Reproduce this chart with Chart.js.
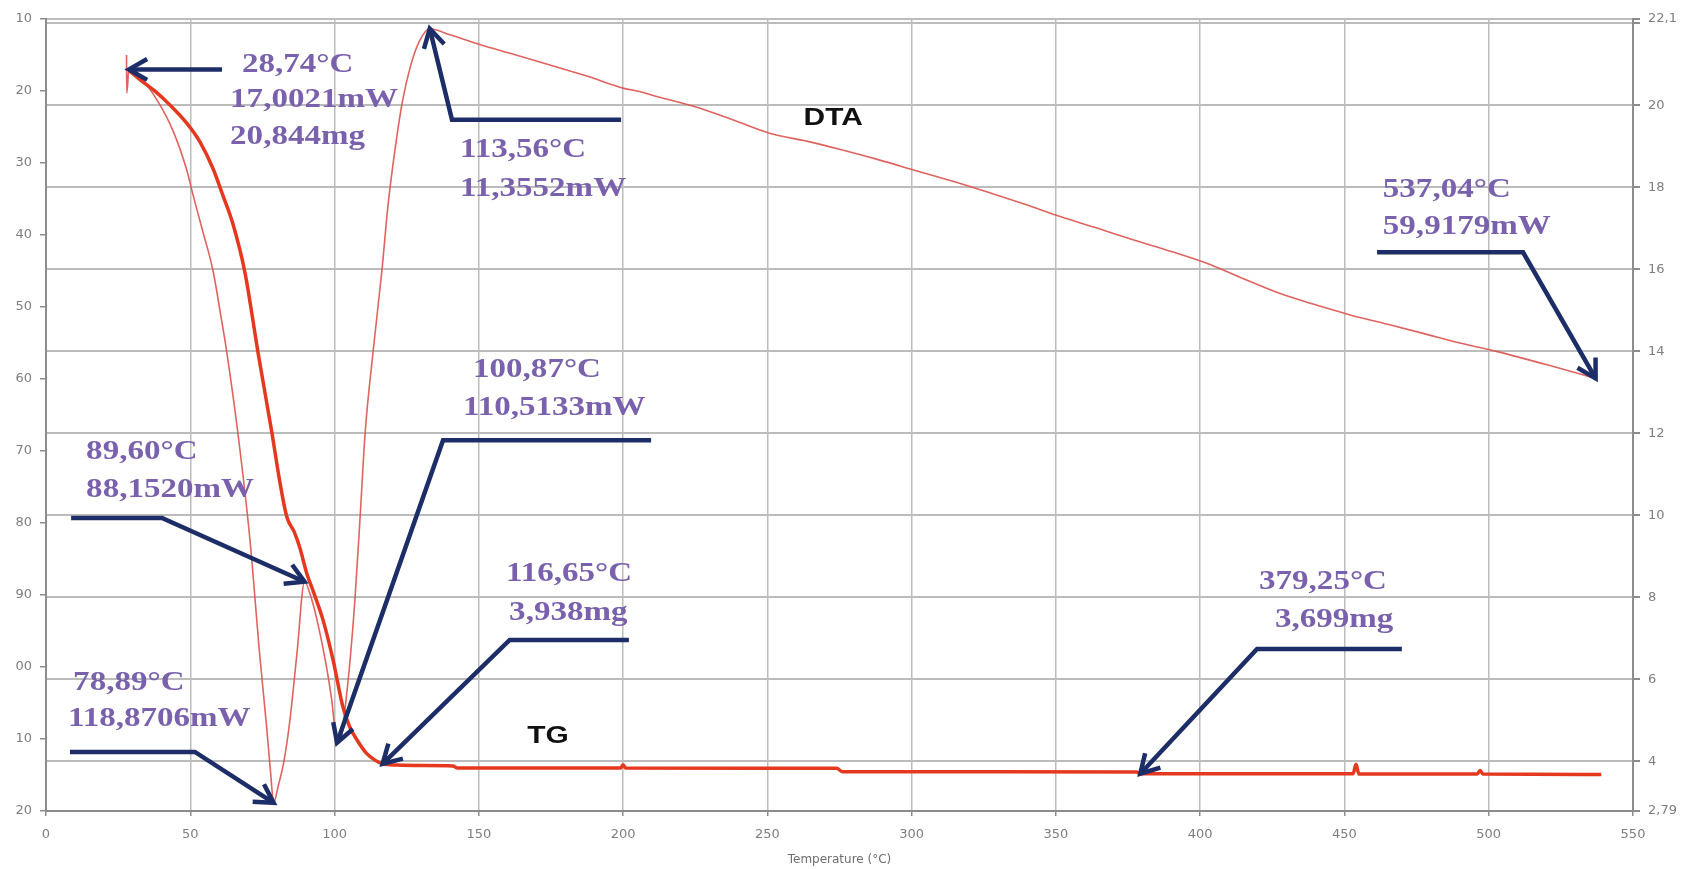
<!DOCTYPE html>
<html>
<head>
<meta charset="utf-8">
<script src="https://cdn.jsdelivr.net/npm/chart.js@4.4.1/dist/chart.umd.min.js"></script>
<style>
  html, body { margin: 0; padding: 0; background: #fff; width: 1687px; height: 869px; overflow: hidden; }
  #frame { position: absolute; left: 15px; top: 0; width: 1672px; height: 869px; overflow: hidden; background: #fff; }
  #chart { position: absolute; left: -20px; top: 0; }
</style>
</head>
<body>
<div id="frame"><canvas id="chart" width="1692" height="869"></canvas></div>
<script>
// DTA signal (mW) against furnace temperature (°C)
const dtaTemp = [27.9, 28.0, 28.74, 33, 38.4, 44, 48.8, 51, 54, 57.9, 60.5, 62.7, 66.5, 70.7, 74, 76.5, 77.8, 78.89,
  80.5, 82.5, 84.5, 87, 89.6, 92, 94.5, 97, 99, 100.87, 102.5, 104, 105.4, 107, 108.8, 110.6, 113.3, 116.4, 118.5,
  121, 123.5, 126.5, 129.5, 133, 140, 150, 162, 174.6, 188, 200, 206, 212, 225, 238, 251, 264, 276, 289, 301, 314,
  326, 339, 352, 364, 377, 390, 402, 414, 427.5, 440, 452, 465, 477.6, 490, 503, 520, 537.04];
const dtaPower = [15.0, 20.3, 17.0021, 18.3, 21.2, 25.5, 31, 34.5, 39, 45, 51, 56.4, 67.5, 82.4, 98, 108.5, 114.5, 118.8706,
  116.5, 113, 107.5, 98, 88.152, 90.5, 94.5, 99.5, 104.5, 110.5133, 109.5, 104.5, 99, 91, 79.6, 67.5, 56.4, 45, 36,
  28, 21.5, 16.3, 13, 11.3552, 12.2, 13.5, 14.9, 16.4, 18.0, 19.6, 20.1, 20.8, 22.2, 24.0, 25.9, 27.0, 28.2, 29.6, 31.0, 32.5,
  34.0, 35.7, 37.5, 39.0, 40.7, 42.3, 43.9, 45.9, 48.1, 49.7, 51.1, 52.4, 53.7, 55.0, 56.2, 58.0, 59.9179];

// TG sample mass (mg) against temperature (°C)
const tgTemp = [28.74, 33, 38.5, 43, 48.9, 53.4, 57.9, 61.3, 64.8, 69, 73.5, 78.3, 81.1, 83.5, 86, 88, 90.3, 92.6, 96, 99.5,
  102.9, 105.2, 107.8, 111, 114, 116.65, 121.6, 130, 141, 142.5, 199.2, 200, 200.8, 274, 276, 378, 379.25, 420, 453,
  454, 455, 496, 497, 498, 539];
const tgMass = [20.844, 20.6, 20.3, 20.0, 19.55, 19.1, 18.45, 17.8, 17.1, 15.9, 13.96, 12.01, 10.79, 9.95, 9.6, 9.2, 8.6, 8.15, 7.45, 6.47,
  5.33, 4.85, 4.52, 4.2, 4.03, 3.938, 3.91, 3.90, 3.89, 3.84, 3.84, 3.92, 3.84, 3.83, 3.75, 3.74, 3.699, 3.70, 3.70,
  3.93, 3.69, 3.69, 3.78, 3.69, 3.68];

// Axis ticks
const tempTicks = [0, 50, 100, 150, 200, 250, 300, 350, 400, 450, 500, 550];
const powerTicks = [10, 20, 30, 40, 50, 60, 70, 80, 90, 100, 110, 120];
const massTicks = [2.79, 4, 6, 8, 10, 12, 14, 16, 18, 20, 22, 22.1];
const massTickLabels = ['2,79', '4', '6', '8', '10', '12', '14', '16', '18', '20', '', '22,1'];

// Callout texts, each line anchored at [temperature, mW] (left edge, vertical centre)
const callouts = [
  { lines: ['28,74°C', '17,0021mW', '20,844mg'], at: [[67.9, 16.4], [63.8, 21.25], [63.8, 26.4]] },
  { lines: ['113,56°C', '11,3552mW'], at: [[143.5, 28.2], [143.5, 33.6]] },
  { lines: ['537,04°C', '59,9179mW'], at: [[463.3, 33.75], [463.3, 38.9]] },
  { lines: ['100,87°C', '110,5133mW'], at: [[148.0, 58.75], [144.5, 64.0]] },
  { lines: ['89,60°C', '88,1520mW'], at: [[13.9, 70.1], [13.9, 75.4]] },
  { lines: ['78,89°C', '118,8706mW'], at: [[9.4, 102.2], [7.6, 107.2]] },
  { lines: ['116,65°C', '3,938mg'], at: [[159.4, 87.1], [160.5, 92.4]] },
  { lines: ['379,25°C', '3,699mg'], at: [[420.4, 88.2], [425.9, 93.5]] }
];

// Leader arrows: bent path in [temperature, mW], ending on a point of a curve
const arrows = [
  { path: [[61.0, 17.0021]], tip: ['dta', 28.74] },
  { path: [[199.3, 24.0], [140.7, 24.0]], tip: ['dta', 133] },
  { path: [[461.3, 42.4], [511.9, 42.4]], tip: ['dta', 537.04] },
  { path: [[209.7, 68.5], [137.6, 68.5]], tip: ['dta', 100.87] },
  { path: [[8.7, 79.3], [40.2, 79.3]], tip: ['dta', 89.6] },
  { path: [[8.3, 111.8], [51.6, 111.8]], tip: ['dta', 78.89] },
  { path: [[202.0, 96.25], [160.7, 96.25]], tip: ['tg', 116.65] },
  { path: [[469.9, 97.5], [419.7, 97.5]], tip: ['tg', 379.25] }
];

// Curve names
const curveNames = [
  { text: 'DTA', at: [272.8, 23.9] },
  { text: 'TG', at: [174.0, 109.7] }
];

const AXIS_GREY = '#8c8c8c';
const GRID_GREY = '#bcbcbc';
const TICK_TEXT = '#7e7e7e';
const ARROW_BLUE = '#1d2d68';
const NOTE_PURPLE = '#7a61ad';

const calloutPlugin = {
  id: 'callouts',
  afterDatasetsDraw(chart) {
    const { ctx } = chart;
    const sx = chart.scales.x, sp = chart.scales.yPower, sm = chart.scales.yMass;
    const px = ([t, p]) => [sx.getPixelForValue(t), sp.getPixelForValue(p)];
    const tipOf = ([series, t]) => {
      if (series === 'dta') {
        const i = dtaTemp.indexOf(t);
        return [sx.getPixelForValue(dtaTemp[i]), sp.getPixelForValue(dtaPower[i])];
      }
      const i = tgTemp.indexOf(t);
      return [sx.getPixelForValue(tgTemp[i]), sm.getPixelForValue(tgMass[i])];
    };
    ctx.save();
    ctx.strokeStyle = ARROW_BLUE;
    ctx.lineWidth = 4.5;
    ctx.lineJoin = 'miter';
    ctx.lineCap = 'butt';
    for (const a of arrows) {
      const pts = a.path.map(px);
      const tip = tipOf(a.tip);
      pts.push(tip);
      ctx.beginPath();
      pts.forEach(([x, y], i) => (i ? ctx.lineTo(x, y) : ctx.moveTo(x, y)));
      ctx.stroke();
      const [x0, y0] = pts[pts.length - 2];
      const ang = Math.atan2(tip[1] - y0, tip[0] - x0);
      const L = 21, A = 0.52;
      ctx.beginPath();
      ctx.moveTo(tip[0] - L * Math.cos(ang - A), tip[1] - L * Math.sin(ang - A));
      ctx.lineTo(tip[0], tip[1]);
      ctx.lineTo(tip[0] - L * Math.cos(ang + A), tip[1] - L * Math.sin(ang + A));
      ctx.stroke();
    }
    // callout texts
    ctx.fillStyle = NOTE_PURPLE;
    ctx.font = 'bold 28px "Liberation Serif", "DejaVu Serif", serif';
    ctx.textAlign = 'left';
    ctx.textBaseline = 'middle';
    for (const c of callouts) {
      c.lines.forEach((line, i) => {
        const [x, y] = px(c.at[i]);
        ctx.save();
        ctx.translate(x, y);
        ctx.scale(1.18, 1);
        ctx.fillText(line, 0, 0);
        ctx.restore();
      });
    }
    // curve names
    ctx.fillStyle = '#111';
    ctx.font = 'bold 23px "Liberation Sans", Arial, sans-serif';
    ctx.textAlign = 'center';
    for (const n of curveNames) {
      const [x, y] = px(n.at);
      ctx.save();
      ctx.translate(x, y);
      ctx.scale(1.3, 1);
      ctx.fillText(n.text, 0, 0);
      ctx.restore();
    }
    ctx.restore();
  }
};

const tickFont = { family: 'DejaVu Sans', size: 13 };

new Chart(document.getElementById('chart'), {
  type: 'line',
  data: {
    datasets: [
      {
        label: 'TG',
        data: tgTemp.map((t, i) => ({ x: t, y: tgMass[i] })),
        yAxisID: 'yMass',
        borderColor: '#e4391f',
        borderWidth: 3.5,
        pointRadius: 0,
        cubicInterpolationMode: 'monotone'
      },
      {
        label: 'DTA',
        data: dtaTemp.map((t, i) => ({ x: t, y: dtaPower[i] })),
        yAxisID: 'yPower',
        borderColor: 'rgba(220, 82, 76, 0.9)',
        borderWidth: 1.6,
        pointRadius: 0,
        cubicInterpolationMode: 'monotone'
      }
    ]
  },
  options: {
    responsive: false,
    animation: false,
    devicePixelRatio: 1,
    layout: { padding: { top: 19, left: 0, right: 0, bottom: 0 } },
    plugins: { legend: { display: false }, tooltip: { enabled: false } },
    scales: {
      x: {
        type: 'linear',
        min: 0,
        max: 550,
        afterBuildTicks: (s) => { s.ticks = tempTicks.map(v => ({ value: v })); },
        ticks: { color: TICK_TEXT, font: tickFont, padding: 11, autoSkip: false, maxRotation: 0 },
        grid: { color: GRID_GREY, lineWidth: 1.5, tickLength: 5, tickColor: AXIS_GREY },
        border: { color: AXIS_GREY, width: 2 },
        title: {
          display: true,
          text: 'Temperature (°C)',
          color: '#6e6e6e',
          font: { family: 'DejaVu Sans', size: 12 },
          padding: { top: 0, bottom: 2 }
        },
        afterFit: (s) => { s.height = 58; }
      },
      yPower: {
        type: 'linear',
        position: 'left',
        reverse: true,
        min: 10,
        max: 120,
        afterBuildTicks: (s) => { s.ticks = powerTicks.map(v => ({ value: v })); },
        ticks: { color: TICK_TEXT, font: tickFont, padding: 8, autoSkip: false },
        grid: { drawOnChartArea: false, tickLength: 6, tickColor: AXIS_GREY, lineWidth: 1.5 },
        border: { color: AXIS_GREY, width: 2 },
        afterFit: (s) => { s.width = 51; }
      },
      yMass: {
        type: 'linear',
        position: 'right',
        min: 2.79,
        max: 22.1,
        afterBuildTicks: (s) => { s.ticks = massTicks.map(v => ({ value: v })); },
        ticks: {
          color: TICK_TEXT,
          font: tickFont,
          padding: 8,
          autoSkip: false,
          callback: (v, i) => massTickLabels[i]
        },
        grid: { color: GRID_GREY, lineWidth: 2, tickLength: 7, tickColor: AXIS_GREY },
        border: { color: AXIS_GREY, width: 2 },
        afterFit: (s) => { s.width = 54; }
      }
    }
  },
  plugins: [calloutPlugin]
});
</script>
</body>
</html>
